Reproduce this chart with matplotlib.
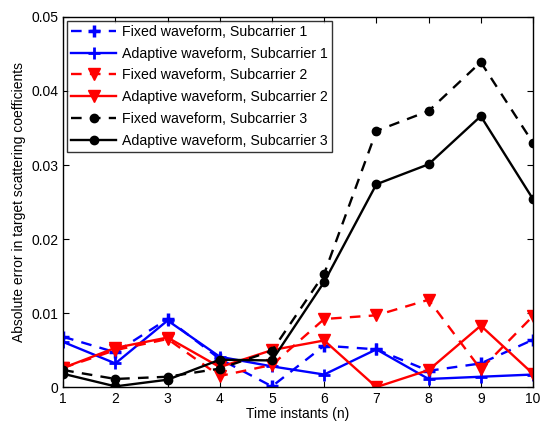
import matplotlib.pyplot as plt
import numpy as np

plt.rcParams['font.family'] = ['Liberation Sans', 'DejaVu Sans']

t = np.arange(1, 11)

fixed_s1 = [0.0068, 0.0047, 0.0092, 0.0038, 0.0001, 0.0056, 0.0051, 0.0022, 0.0032, 0.0064]
adapt_s1 = [0.0061, 0.0032, 0.0090, 0.0041, 0.0028, 0.0017, 0.0051, 0.0011, 0.0014, 0.0017]
fixed_s2 = [0.0026, 0.0050, 0.0065, 0.0015, 0.0030, 0.0092, 0.0097, 0.0118, 0.0024, 0.0096]
adapt_s2 = [0.0026, 0.0053, 0.0067, 0.0027, 0.0050, 0.0063, 0.0000, 0.0023, 0.0083, 0.0018]
fixed_s3 = [0.0023, 0.0011, 0.0014, 0.0025, 0.0049, 0.0153, 0.0346, 0.0373, 0.0439, 0.0330]
adapt_s3 = [0.0018, 0.0001, 0.0010, 0.0037, 0.0036, 0.0142, 0.0274, 0.0301, 0.0366, 0.0254]

fig = plt.figure(figsize=(5.4, 4.24), dpi=100)
ax = fig.add_axes([0.117, 0.087, 0.870, 0.873])

lw = 1.7
dash = (4.5, 3.5)
ax.plot(t, fixed_s1, '--', color='blue', marker='+', ms=8, mew=2.5, lw=lw, dashes=dash,
        label='Fixed waveform, Subcarrier 1')
ax.plot(t, adapt_s1, '-', color='blue', marker='+', ms=8, mew=2, lw=lw,
        label='Adaptive waveform, Subcarrier 1')
ax.plot(t, fixed_s2, '--', color='red', marker='v', ms=9, lw=lw, dashes=dash,
        label='Fixed waveform, Subcarrier 2')
ax.plot(t, adapt_s2, '-', color='red', marker='v', ms=9, lw=lw,
        label='Adaptive waveform, Subcarrier 2')
ax.plot(t, fixed_s3, '--', color='black', marker='o', ms=6, lw=lw, dashes=dash,
        label='Fixed waveform, Subcarrier 3')
ax.plot(t, adapt_s3, '-', color='black', marker='o', ms=6, lw=lw,
        label='Adaptive waveform, Subcarrier 3')

ax.set_xlim(1, 10)
ax.set_ylim(0, 0.05)
ax.set_xticks(t)
ax.set_yticks([0, 0.01, 0.02, 0.03, 0.04, 0.05])
ax.set_yticklabels(['0', '0.01', '0.02', '0.03', '0.04', '0.05'])
ax.tick_params(direction='in', top=True, right=True, labelsize=10, length=4)
for s in ax.spines.values():
    s.set_linewidth(1)

ax.set_xlabel('Time instants (n)', fontsize=10, labelpad=1)
ax.set_ylabel('Absolute error in target scattering coefficients', fontsize=10, labelpad=4)

leg = ax.legend(loc='upper left', fontsize=10.2, handlelength=3.2, frameon=True, fancybox=False,
                edgecolor='black', borderaxespad=0.25, labelspacing=0.55, borderpad=0.3,
                handletextpad=0.4)
leg.get_frame().set_linewidth(1)

fig.savefig('out.png', dpi=100)
